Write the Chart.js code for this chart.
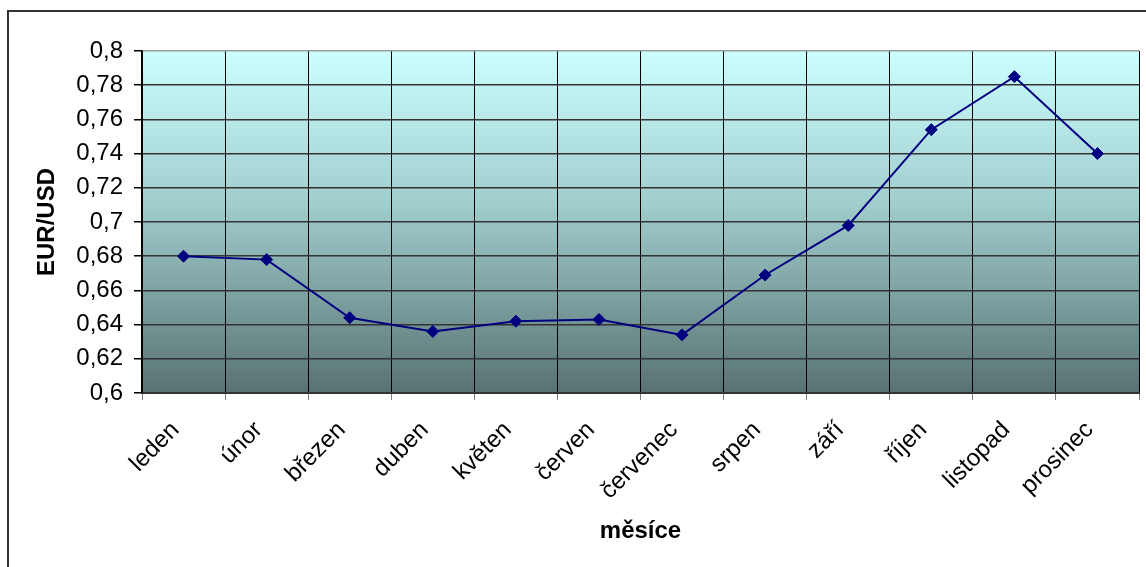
<!DOCTYPE html>
<html>
<head>
<meta charset="utf-8">
<script src="https://cdn.jsdelivr.net/npm/chart.js@4/dist/chart.umd.min.js"></script>
<style>
  html, body { margin: 0; padding: 0; background: #ffffff; }
  #wrap { position: relative; width: 1146px; height: 567px; }
  canvas { display: block; }
</style>
</head>
<body>
<div id="wrap"><canvas id="c" width="1146" height="567"></canvas></div>
<script>
// ---- data ----
const months = ['leden', 'únor', 'březen', 'duben', 'květen', 'červen', 'červenec', 'srpen', 'září', 'říjen', 'listopad', 'prosinec'];
const eurUsd = [0.680, 0.678, 0.644, 0.636, 0.642, 0.643, 0.634, 0.669, 0.698, 0.754, 0.785, 0.740];
const yTickValues = [0.6, 0.62, 0.64, 0.66, 0.68, 0.7, 0.72, 0.74, 0.76, 0.78, 0.8];
const yTickLabels = ['0,6', '0,62', '0,64', '0,66', '0,68', '0,7', '0,72', '0,74', '0,76', '0,78', '0,8'];
const xTitle = 'měsíce';
const yTitle = 'EUR/USD';

const FONT = "'Liberation Sans', Arial, sans-serif";

const bgPlugin = {
  id: 'bg',
  beforeDraw(chart) {
    const { ctx, chartArea: a } = chart;
    const g = ctx.createLinearGradient(0, a.top, 0, a.bottom);
    g.addColorStop(0, '#ccffff');
    g.addColorStop(0.45, '#a0cccc');
    g.addColorStop(1, '#587272');
    ctx.save();
    ctx.fillStyle = g;
    ctx.fillRect(a.left, a.top, a.right - a.left, a.bottom - a.top);
    ctx.restore();
  },
  afterDraw(chart) {
    const { ctx } = chart;
    ctx.save();
    ctx.strokeStyle = '#333333';
    ctx.lineWidth = 2;
    ctx.beginPath();
    ctx.moveTo(8, 567);
    ctx.lineTo(8, 11);
    ctx.lineTo(1146, 11);
    ctx.stroke();
    ctx.restore();
  }
};

new Chart(document.getElementById('c'), {
  type: 'line',
  data: {
    labels: months,
    datasets: [{
      data: eurUsd,
      borderColor: '#000080',
      backgroundColor: '#000080',
      borderWidth: 2,
      pointStyle: 'rectRot',
      pointRadius: 6,
      pointHoverRadius: 6,
      pointBorderWidth: 1,
      tension: 0
    }]
  },
  options: {
    responsive: false,
    animation: false,
    events: [],
    layout: { padding: { left: 20, top: 51, right: 4, bottom: 10 } },
    plugins: { legend: { display: false }, tooltip: { enabled: false } },
    scales: {
      x: {
        offset: true,
        grid: {
          offset: true,
          color: (c) => (c.index === months.length ? '#999999' : '#000000'),
          lineWidth: 1,
          tickLength: 7,
          tickColor: '#808080',
          drawTicks: true
        },
        border: { display: true, color: '#333333', width: 2 },
        ticks: {
          autoSkip: false,
          maxRotation: 45,
          minRotation: 45,
          padding: 16,
          labelOffset: -8,
          color: '#000000',
          font: { family: FONT, size: 24 }
        },
        title: {
          display: true,
          text: xTitle,
          color: '#000000',
          font: { family: FONT, size: 24, weight: 'bold' },
          padding: { top: 0, bottom: 11 }
        },
        afterFit(scale) { scale.height = 567 - 10 - 393; }
      },
      y: {
        min: 0.6,
        max: 0.8,
        afterBuildTicks(scale) { scale.ticks = yTickValues.map(v => ({ value: v })); },
        grid: {
          color: (c) => (c.tick && Math.abs(c.tick.value - 0.8) < 1e-9 ? '#999999' : '#333333'),
          lineWidth: 1.5,
          tickLength: 8,
          tickColor: '#000000'
        },
        border: { display: true, color: '#000000', width: 1.5 },
        ticks: {
          padding: 11,
          color: '#000000',
          font: { family: FONT, size: 24 },
          callback: (v, i) => yTickLabels[i]
        },
        title: {
          display: true,
          text: yTitle,
          color: '#000000',
          font: { family: FONT, size: 24, weight: 'bold' },
          padding: { top: 13, bottom: 0 }
        },
        afterFit(scale) { scale.width = 142 - 20; }
      }
    }
  },
  plugins: [bgPlugin]
});
</script>
</body>
</html>
